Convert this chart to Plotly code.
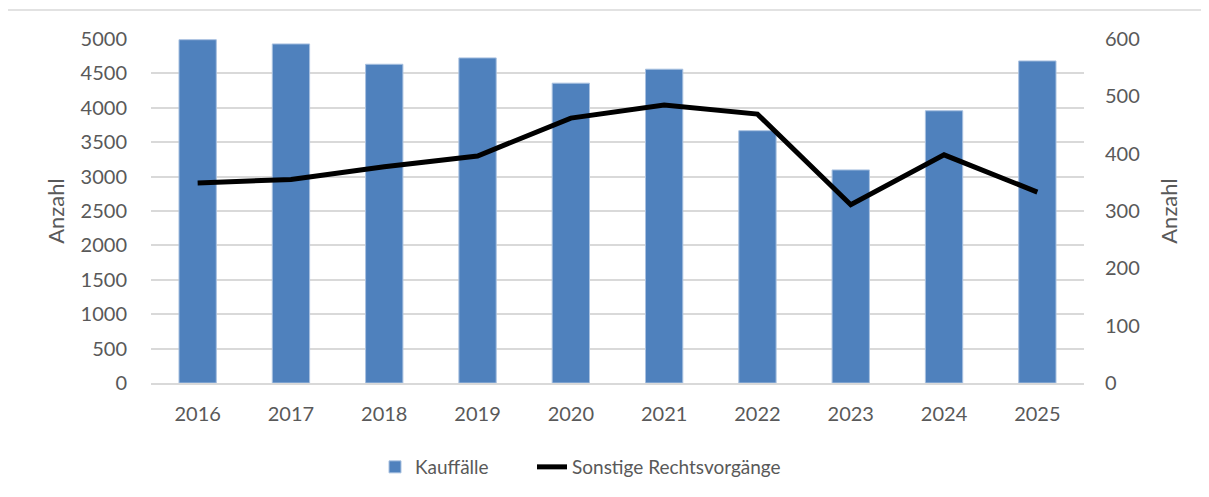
import plotly.graph_objects as go

years = ["2016", "2017", "2018", "2019", "2020", "2021", "2022", "2023", "2024", "2025"]
kauffaelle = [4990, 4928, 4633, 4725, 4358, 4561, 3667, 3097, 3957, 4681]
sonstige = [349, 355, 377, 396, 462, 485, 469, 311, 398, 333]

left_ticks = list(range(0, 5001, 500))
right_ticks = list(range(0, 601, 100))

FONT = "Lato, 'Open Sans', sans-serif"
TXT = "#595959"
GRID = "#D9D9D9"

fig = go.Figure()
fig.add_trace(go.Bar(
    x=years, y=kauffaelle, name="Kauffälle",
    marker=dict(color="#4F81BD", line=dict(color="#A9C1E0", width=1)),
    yaxis="y", legend="legend",
))
fig.add_trace(go.Scatter(
    x=years, y=sonstige, name="Sonstige Rechtsvorgänge",
    mode="lines", line=dict(color="#000000", width=5),
    yaxis="y2", legend="legend2",
))

OFF = 8  # page body margin
W, H = 1209 - OFF, 497 - OFF
L, R, T, B = 151 - OFF, 1084 - OFF, 39 - OFF, 384 - OFF
pw, ph = R - L, B - T


def px(x):
    return (x - OFF - L) / pw


def py(y):
    return (B - (y - OFF)) / ph


leg_common = dict(orientation="h", xanchor="left", y=py(467), yanchor="middle",
                  font=dict(size=19, color=TXT), bgcolor="rgba(0,0,0,0)")

fig.update_layout(
    width=W, height=H,
    margin=dict(l=L, r=W - R, t=T, b=H - B),
    paper_bgcolor="white", plot_bgcolor="white",
    font=dict(family=FONT, size=20, color=TXT),
    bargap=0.6,
    showlegend=True,
    legend=dict(x=px(375), **leg_common),
    legend2=dict(x=px(532), **leg_common),
    xaxis=dict(showgrid=False, showline=True, linecolor=GRID, linewidth=1.5,
               ticks="", ticklabelstandoff=12, tickfont=dict(size=20, color=TXT)),
    yaxis=dict(range=[0, 5000], tickvals=left_ticks, showgrid=True, gridcolor=GRID,
               gridwidth=1.5, zeroline=False, ticks="", ticklabelstandoff=23,
               tickfont=dict(size=20, color=TXT),
               title=dict(text="Anzahl", standoff=9, font=dict(size=22, color=TXT))),
    yaxis2=dict(range=[0, 600], tickvals=right_ticks, overlaying="y", side="right",
                showgrid=False, zeroline=False, ticks="", ticklabelstandoff=20,
                tickfont=dict(size=20, color=TXT),
                title=dict(text="Anzahl", standoff=22, font=dict(size=22, color=TXT))),
    shapes=[dict(type="rect", xref="paper", yref="paper",
                 x0=px(7), x1=px(1240), y0=py(530), y1=py(10),
                 line=dict(color="#D9D9D9", width=1.5), fillcolor="rgba(0,0,0,0)",
                 layer="below")],
)

fig.write_html("out.html")
